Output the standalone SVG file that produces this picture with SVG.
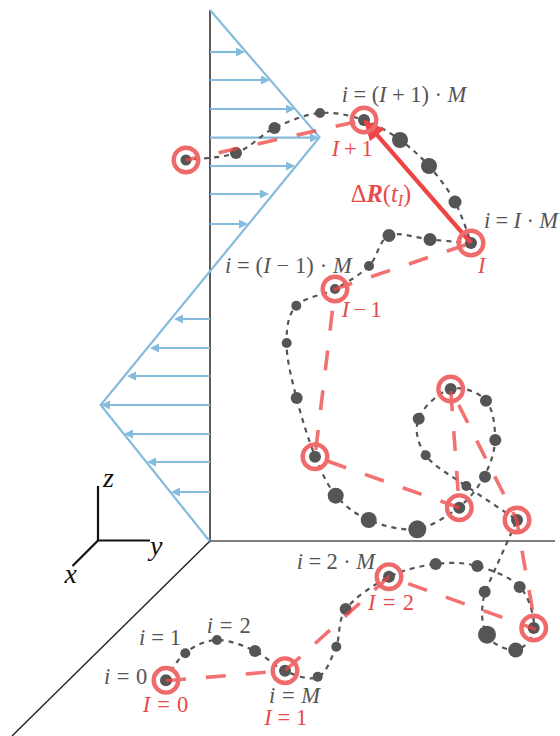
<svg xmlns="http://www.w3.org/2000/svg" width="560" height="736" viewBox="0 0 560 736">
<style>
text{font-family:"Liberation Serif","Times New Roman",serif;font-size:22.5px}
.g{fill:#555}.r{fill:#e84a4a}.k{fill:#111;font-size:28px}
.i{font-style:italic}
.bl{stroke:#85bbdc;stroke-width:2.2;fill:none}
.ar{marker-end:url(#ab)}
.bead{fill:#555}
.ring{fill:none;stroke:#ef6a6a;stroke-width:4.4}
.cs{stroke:#ee4444;stroke-opacity:.76;stroke-width:3.6;stroke-dasharray:20 20}
</style>
<defs>
<marker id="ab" markerUnits="userSpaceOnUse" markerWidth="11" markerHeight="10" refX="6" refY="4.5" orient="auto"><path d="M0 0L9 4.5L0 9z" fill="#85bbdc"/></marker>
<marker id="ar" markerUnits="userSpaceOnUse" markerWidth="24" markerHeight="22" refX="18" refY="9.5" orient="auto"><path d="M0 0L21 9.5L0 19z" fill="#ee4444"/></marker>
</defs>
<rect width="560" height="736" fill="#fff"/>
<g id="axes" fill="none">
<path d="M210 10V541" stroke="#333" stroke-width="1.6"/>
<path d="M210 541H555" stroke="#555" stroke-width="1.6"/>
<path d="M210 541L12 736" stroke="#222" stroke-width="1.4"/>
<path d="M98 486V540.5H150M98 540.5L72.5 566" stroke="#111" stroke-width="2.2"/>
</g>
<g id="axis-labels">
<text class="k i" x="103" y="486.5">z</text>
<text class="k i" x="150" y="555">y</text>
<text class="k i" x="64.5" y="582.5">x</text>
</g>
<g id="profile">
<path class="bl" d="M210 10L319.5 137.3L100.7 405L209.5 541"/>
<path class="bl ar" d="M210 52H242"/>
<path class="bl ar" d="M210 80H267"/>
<path class="bl ar" d="M210 109H292"/>
<path class="bl ar" d="M210 137.7H316"/>
<path class="bl ar" d="M210 166H292"/>
<path class="bl ar" d="M210 194H266"/>
<path class="bl ar" d="M210 224H245"/>
<path class="bl ar" d="M210 319H177"/>
<path class="bl ar" d="M210 348H153"/>
<path class="bl ar" d="M210 376H130"/>
<path class="bl ar" d="M210 405H104"/>
<path class="bl ar" d="M210 434H127"/>
<path class="bl ar" d="M210 462H150"/>
<path class="bl ar" d="M210 492H174"/>
</g>
<g id="beads" class="bead">
<g id="b1"><circle cx="185.3" cy="653.3" r="5"/></g>
<g id="b2"><circle cx="217" cy="640" r="5"/></g>
<g id="b3"><circle cx="255" cy="651" r="6"/></g>
<g id="b5"><circle cx="317.7" cy="676.7" r="5"/></g>
<g id="b6"><circle cx="336.3" cy="646.7" r="5"/></g>
<g id="b7"><circle cx="345.7" cy="609" r="6"/></g>
<g id="b9"><circle cx="435.7" cy="564" r="6"/></g>
<g id="b10"><circle cx="477.3" cy="566" r="6"/></g>
<g id="b11"><circle cx="519.7" cy="587" r="6"/></g>
<g id="b13"><circle cx="515.7" cy="650" r="7.5"/></g>
<g id="b14"><circle cx="487" cy="634.7" r="9"/></g>
<g id="b15"><circle cx="484.7" cy="591.7" r="6"/></g>
<g id="b17"><circle cx="466.3" cy="486" r="5"/></g>
<g id="b18"><circle cx="425.7" cy="455.3" r="5"/></g>
<g id="b19"><circle cx="418.7" cy="418.7" r="6"/></g>
<g id="b21"><circle cx="486" cy="400.7" r="6"/></g>
<g id="b22"><circle cx="495.3" cy="440" r="6"/></g>
<g id="b23"><circle cx="485" cy="476.7" r="6"/></g>
<g id="b25"><circle cx="417.3" cy="529.3" r="9"/></g>
<g id="b26"><circle cx="368.7" cy="520" r="8"/></g>
<g id="b27"><circle cx="335.7" cy="495.7" r="8"/></g>
<g id="b29"><circle cx="296.7" cy="398" r="6"/></g>
<g id="b30"><circle cx="286.7" cy="343" r="5"/></g>
<g id="b31"><circle cx="296.3" cy="305.7" r="5"/></g>
<g id="b33"><circle cx="369" cy="266" r="5"/></g>
<g id="b34"><circle cx="389" cy="235.5" r="6.5"/></g>
<g id="b35"><circle cx="430" cy="239.5" r="6.5"/></g>
<g id="b37"><circle cx="455" cy="202" r="6.5"/></g>
<g id="b38"><circle cx="429" cy="166" r="8"/></g>
<g id="b39"><circle cx="400" cy="140" r="8"/></g>
<g id="b41"><circle cx="320" cy="113" r="5"/></g>
<g id="b42"><circle cx="274.5" cy="128" r="6"/></g>
<g id="b43"><circle cx="236" cy="153" r="6"/></g>
<circle cx="166" cy="680.3" r="6"/><circle cx="285" cy="670.7" r="6"/><circle cx="389" cy="576.7" r="6"/><circle cx="533.7" cy="628" r="6"/><circle cx="517" cy="520" r="6"/><circle cx="450.7" cy="389" r="6"/><circle cx="459.3" cy="507.7" r="6"/><circle cx="315" cy="456.7" r="6"/><circle cx="335" cy="289" r="5"/><circle cx="471" cy="243" r="6"/><circle cx="364" cy="120" r="6"/><circle cx="186" cy="160" r="5.5"/>
</g>
<g id="connectors" fill="none">
<path id="chain" stroke="#555" stroke-width="2.2" stroke-dasharray="5 5" d="M166 680C169 675.5 176.5 659.7 185 653C193.5 646.3 205.3 640.3 217 640C228.7 639.7 243.7 645.8 255 651C266.3 656.2 274.5 666.7 285 671C295.5 675.3 309.5 681 318 677C326.5 673 331.3 658.3 336 647C340.7 635.7 337.2 620.7 346 609C354.8 597.3 374 584.5 389 577C404 569.5 421.3 565.8 436 564C450.7 562.2 463 562.2 477 566C491 569.8 510.5 576.7 520 587C529.5 597.3 534.7 617.5 534 628C533.3 638.5 523.8 648.8 516 650C508.2 651.2 492.2 644.7 487 635C481.8 625.3 480 611.2 485 592L517 520L466 486C450.7 475.2 433.4 466.3 425.5 455C417.6 443.7 414.3 429.5 418.5 418.5C422.7 407.5 439.2 392 450.5 389C461.8 386 478.6 392 486 400.5C493.4 409 495.3 427.3 495 440C494.7 452.7 490 465.3 484 476.5C478 487.7 470.2 498.2 459 507C447.8 515.8 432 526.8 417 529C402 531.2 382.5 525.6 369 520C355.5 514.4 345 506.2 336 495.5C327 484.8 321.6 472.3 315 456C308.4 439.7 301.3 416.8 296.5 398C291.7 379.2 286.4 358.3 286.5 343C286.6 327.7 287.9 315 296 306C304.1 297 322.8 295.7 335 289C347.2 282.3 360 274.9 369 266C378 257.1 378.8 239.9 389 235.5C399.2 231.1 416.3 238.2 430 239.5C443.7 240.8 471 243 471 243C471 243 462 214.8 455 202C448 189.2 438.2 176.3 429 166C419.8 155.7 410.8 147.7 400 140C389.2 132.3 377.3 124.5 364 120C350.7 115.5 334.9 111.7 320 113C305.1 114.3 288.5 121.3 274.5 128C260.5 134.7 250.8 147.7 236 153C221.2 158.3 194.3 158.8 186 160"/>
<path id="coarse-a" class="cs" d="M166 680.7L285 670.7L389 576.7L536 629.5"/>
<path id="coarse-b" class="cs" stroke-dashoffset="20" d="M536 629.5L516.5 519.5L450.7 389L459.3 507.7"/>
<path id="coarse-c" class="cs" d="M459.3 507.7L315 456.7L335 289L471 243"/>
<path id="coarse-d" class="cs" stroke-dashoffset="31" d="M364 120L186 160"/>
<path id="delta" stroke="#ee4444" stroke-width="4.2" marker-end="url(#ar)" d="M471 243L365.5 121.7"/>
</g>
<g id="I0"><circle class="ring" cx="166" cy="680.3" r="12.3"/><text class="r" x="142.7" y="711.5" textLength="45.6"><tspan class="i">I</tspan> = 0</text></g>
<g id="I1"><circle class="ring" cx="285" cy="670.7" r="12.3"/><text class="r" x="264.3" y="725" textLength="43"><tspan class="i">I</tspan> = 1</text></g>
<g id="I2"><circle class="ring" cx="389" cy="576.7" r="12.3"/><text class="r" x="368" y="610" textLength="46"><tspan class="i">I</tspan> = 2</text></g>
<g id="R3"><circle class="ring" cx="533.7" cy="628" r="12.3"/></g>
<g id="R4"><circle class="ring" cx="517" cy="520" r="12.3"/></g>
<g id="R5"><circle class="ring" cx="450.7" cy="389" r="12.3"/></g>
<g id="R6"><circle class="ring" cx="459.3" cy="507.7" r="12.3"/></g>
<g id="R7"><circle class="ring" cx="315" cy="456.7" r="12.3"/></g>
<g id="Im1"><circle class="ring" cx="335" cy="289" r="12.3"/><text class="r" x="341.7" y="317" textLength="40"><tspan class="i">I</tspan> − 1</text></g>
<g id="Ic"><circle class="ring" cx="471" cy="243" r="12.3"/><text class="r i" x="478" y="273">I</text></g>
<g id="Ip1"><circle class="ring" cx="364" cy="120" r="12.3"/><text class="r" x="331.7" y="156" textLength="41"><tspan class="i">I</tspan> + 1</text></g>
<g id="Rtop"><circle class="ring" cx="186" cy="160" r="12.3"/></g>
<g id="labels">
<text class="g" x="341.7" y="101.7" textLength="124.5"><tspan class="i">i</tspan> = (<tspan class="i">I</tspan> + 1) · <tspan class="i">M</tspan></text>
<text class="g" x="484" y="228" textLength="74"><tspan class="i">i</tspan> = <tspan class="i">I</tspan> · <tspan class="i">M</tspan></text>
<text class="g" x="225" y="273" textLength="126.7"><tspan class="i">i</tspan> = (<tspan class="i">I</tspan> − 1) · <tspan class="i">M</tspan></text>
<text class="g" x="296.7" y="569.3" textLength="78.3"><tspan class="i">i</tspan> = 2 · <tspan class="i">M</tspan></text>
<text class="g" x="139" y="645" textLength="42"><tspan class="i">i</tspan> = 1</text>
<text class="g" x="206.7" y="633" textLength="44"><tspan class="i">i</tspan> = 2</text>
<text class="g" x="104" y="684" textLength="43.3"><tspan class="i">i</tspan> = 0</text>
<text class="g" x="269" y="703" textLength="51"><tspan class="i">i</tspan> = <tspan class="i">M</tspan></text>
<text class="r" x="350.7" y="202" style="font-size:24.5px">Δ<tspan class="i" font-weight="bold">R</tspan>(<tspan class="i">t</tspan><tspan class="i" style="font-size:16px" dy="4">I</tspan><tspan dy="-4">)</tspan></text>
</g>
</svg>
